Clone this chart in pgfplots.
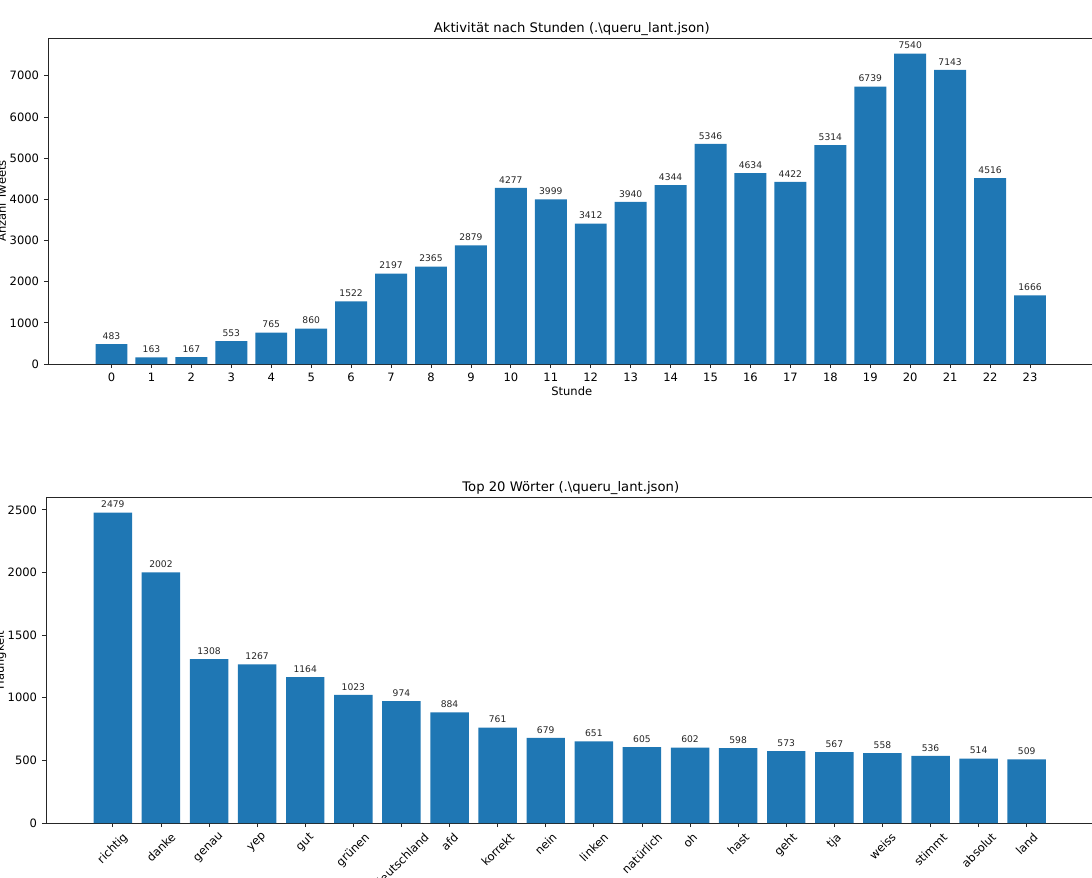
\documentclass[border=0pt]{standalone}
\usepackage{fontspec}
\setmainfont{DejaVu Sans}
\usepackage{pgfplots}
\pgfplotsset{compat=1.18}
\definecolor{barblue}{RGB}{31,119,180}
\newcommand{\rl}[1]{\rotatebox{45}{#1}}

\pgfplotsset{
  mplbars/.style={
    scale only axis,
    ybar,
    bar width=0.8,
    ymin=0,
    enlargelimits=false,
    axis line style={black!85, line width=0.6pt},
    tick style={black!85, line width=0.6pt},
    major tick length=2.9pt,
    tick align=outside,
    xtick pos=bottom,
    ytick pos=left,
    scaled y ticks=false,
    /pgf/number format/1000 sep={},
    /pgf/number format/assume math mode=true,
    ticklabel style={font=\fontsize{8.3}{10}\selectfont},
    label style={font=\fontsize{8.3}{10}\selectfont},
    title style={font=\fontsize{9.5}{11}\selectfont, at={(axis description cs:0.5,1)}, anchor=base, yshift=-2pt},
    ylabel style={at={(axis description cs:-0.0402,0.5)}, anchor=base},
    nodes near coords,
    nodes near coords style={font=\fontsize{6.6}{8}\selectfont, anchor=base, inner sep=0pt, yshift=3.4pt, black!85},
  }
}

\begin{document}
\begin{tikzpicture}

% Aktivitaet nach Stunden
\begin{axis}[
    mplbars,
    at={(34.56pt,-27.36pt)}, anchor=north west,
    width=754.2pt, height=234.72pt,
    xmin=-1.59, xmax=24.64,
    ymax=7917,
    xtick={0,...,23},
    ytick={0,1000,...,7000},
    title={Aktivität nach Stunden (.\textbackslash queru\_lant.json)},
    xlabel={Stunde},
    xlabel style={at={(axis description cs:0.5,0)}, anchor=base, yshift=-23pt},
    ylabel={Anzahl Tweets},
]
\addplot[fill=barblue, draw=none] coordinates {
    (0,483) (1,163) (2,167) (3,553) (4,765) (5,860)
    (6,1522) (7,2197) (8,2365) (9,2879) (10,4277) (11,3999)
    (12,3412) (13,3940) (14,4344) (15,5346) (16,4634) (17,4422)
    (18,5314) (19,6739) (20,7540) (21,7143) (22,4516) (23,1666)
};
\end{axis}

% Top 20 Woerter
\begin{axis}[
    mplbars,
    at={(33.12pt,-357.84pt)}, anchor=north west,
    width=755.64pt, height=234.72pt,
    xmin=-1.39, xmax=20.43,
    ymax=2603,
    xtick=data,
    xticklabels={\rl{richtig},\rl{danke},\rl{genau},\rl{yep},\rl{gut},\rl{grünen},
        \rl{deutschland},\rl{afd},\rl{korrekt},\rl{nein},\rl{linken},\rl{natürlich},
        \rl{oh},\rl{hast},\rl{geht},\rl{tja},\rl{weiss},\rl{stimmt},\rl{absolut},\rl{land}},
    xticklabel style={anchor=north},
    ytick={0,500,...,2500},
    title={Top 20 Wörter (.\textbackslash queru\_lant.json)},
    ylabel={Häufigkeit},
]
\addplot[fill=barblue, draw=none] coordinates {
    (0,2479) (1,2002) (2,1308) (3,1267) (4,1164) (5,1023)
    (6,974) (7,884) (8,761) (9,679) (10,651) (11,605)
    (12,602) (13,598) (14,573) (15,567) (16,558) (17,536)
    (18,514) (19,509)
};
\end{axis}

\pgfresetboundingbox
\useasboundingbox (0,0) rectangle (786.24pt,-631.44pt);
\end{tikzpicture}
\end{document}
